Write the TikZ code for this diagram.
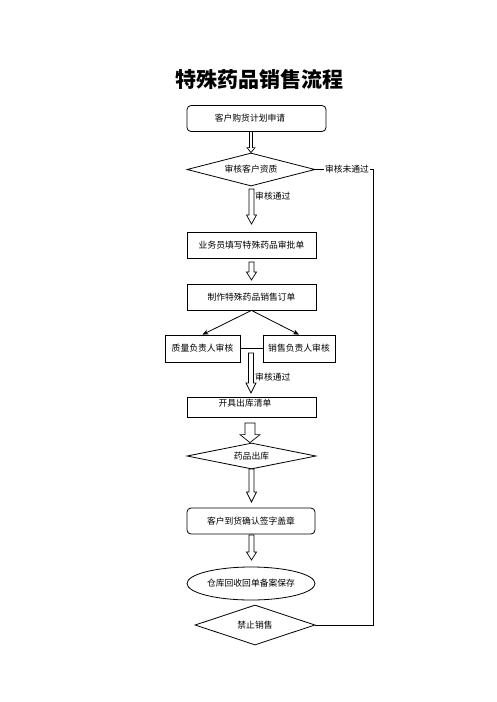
\documentclass[tikz,border=0pt]{standalone}
\usepackage{fontspec}
\setmainfont{Noto Sans CJK SC}
\usetikzlibrary{shapes.geometric,arrows.meta,calc}
\newcommand\hollowarrow[5]{%
  \draw[fill=white,line width=0.7pt] let \p1=(#1), \p2=(#2) in
    (\x1-#3,\y1) -- (\x1-#3,\y2+#5) -- (\x1-#4,\y2+#5) -- (\x1,\y2)
    -- (\x1+#4,\y2+#5) -- (\x1+#3,\y2+#5) -- (\x1+#3,\y1) -- cycle;}
\begin{document}
\begin{tikzpicture}[x=1pt,y=-1pt,
  every node/.style={font=\fontsize{8.8}{10}\selectfont, inner sep=0pt},
  box/.style={draw, line width=0.8pt, minimum width=129pt, minimum height=26pt},
  rbox/.style={box, rounded corners=4pt},
  dia/.style={draw, diamond, line width=0.8pt},
  oval/.style={draw, ellipse, line width=0.8pt},
  lab/.style={anchor=west},
  titlef/.style={font=\fontsize{21}{24}\selectfont\bfseries}
]
\useasboundingbox (0,0) rectangle (496,702);

\node[titlef] (title) at (259,79) {特殊药品销售流程};

% boxes
\node[rbox, minimum width=139pt] (b1) at (256.5,118.5) {};
\node (t1) at (250,118.5) {客户购货计划申请};
\node[dia, aspect=4, minimum width=128pt, minimum height=33pt] (d1) at (251,169.5) {审核客户资质};
\node[box] (b2) at (251.5,245) {业务员填写特殊药品审批单};
\node[box] (b3) at (251.5,297) {制作特殊药品销售订单};
\node[box, minimum width=75pt, minimum height=27pt] (b4) at (202.5,348.5) {质量负责人审核};
\node[box, minimum width=72pt, minimum height=27pt] (b5) at (299,348.5) {销售负责人审核};
\node[box, minimum height=20pt] (b6) at (251.5,407) {};
\node (t6) at (245,403) {开具出库清单};
\node[dia, aspect=5, minimum width=129pt, minimum height=26pt] (d2) at (251.5,456) {药品出库};
\node[rbox, minimum width=128pt] (b7) at (251,521) {客户到货确认签字盖章};
\node[oval, minimum width=128pt, minimum height=33pt] (e1) at (251,583.5) {仓库回收回单备案保存};
\node[dia, aspect=3, minimum width=120pt, minimum height=40pt] (d3) at (255,625) {禁止销售};

% hollow arrows
\coordinate (a1s) at (251,131.5);  \coordinate (a1e) at (d1.north);
\hollowarrow{a1s}{a1e}{1.5pt}{4pt}{5pt}
\coordinate (a2s) at (251.5,189);  \coordinate (a2e) at (251.5,224);
\hollowarrow{a2s}{a2e}{2.5pt}{5pt}{9pt}
\coordinate (a3s) at (251.5,262);  \coordinate (a3e) at (251.5,280);
\hollowarrow{a3s}{a3e}{2.5pt}{5pt}{8pt}
\coordinate (a4s) at (251,353);    \coordinate (a4e) at (251,393);
\hollowarrow{a4s}{a4e}{2.5pt}{5pt}{10pt}
\coordinate (a5s) at (250,423);    \coordinate (a5e) at (d2.north);
\hollowarrow{a5s}{a5e}{5pt}{10pt}{8pt}
\coordinate (a6s) at (251.5,469);  \coordinate (a6e) at (251.5,502);
\hollowarrow{a6s}{a6e}{2.5pt}{5pt}{10pt}
\coordinate (a7s) at (251.5,535);  \coordinate (a7e) at (251.5,560);
\hollowarrow{a7s}{a7e}{2.5pt}{5pt}{8pt}

% labels
\node[lab] (l1) at (255,196) {审核通过};
\node[lab] (l2) at (255,377) {审核通过};

% branch
\draw[line width=0.8pt,-{Stealth[length=6pt,width=5pt]}] (b3.south) -- (b4.north);
\draw[line width=0.8pt,-{Stealth[length=6pt,width=5pt]}] (b3.south) -- (b5.north);
\draw[line width=0.6pt] (b4.east) -- (b5.west);

% reject loop
\coordinate (rc) at (373,0);
\draw[line width=0.8pt] (d1.east) -- (d1.east -| rc) -- (d3.east -| rc) -- (d3.east);
\node[fill=white, inner xsep=1pt] (l3) at (347,169.5) {审核未通过};
\end{tikzpicture}
\end{document}
